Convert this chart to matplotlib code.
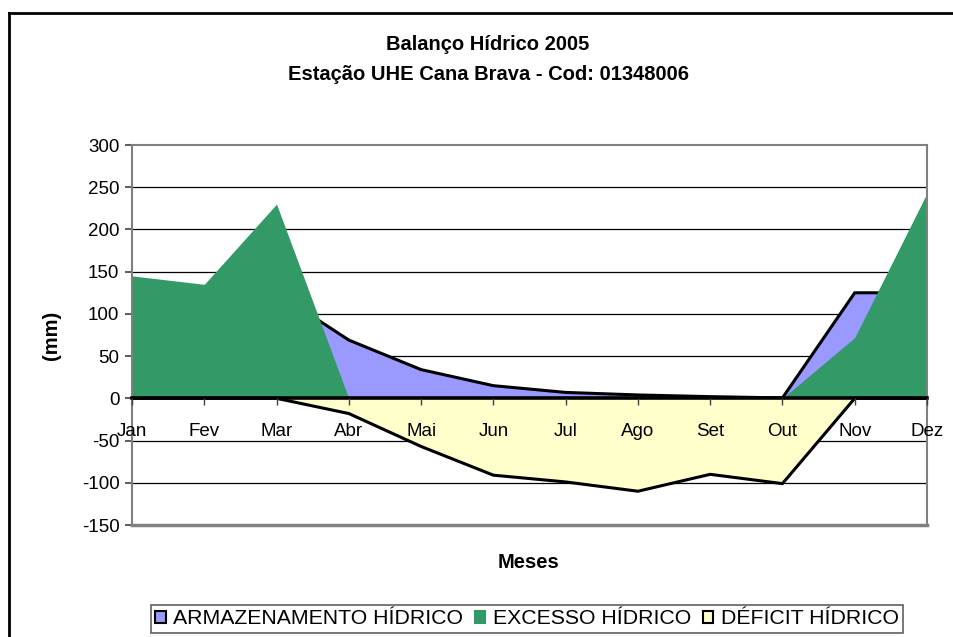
import numpy as np
import matplotlib
matplotlib.use('Agg')
import matplotlib.pyplot as plt
from matplotlib.patches import Patch
from matplotlib.lines import Line2D

plt.rcParams['font.family'] = ['Liberation Sans', 'DejaVu Sans']

# dados
meses = ['Jan', 'Fev', 'Mar', 'Abr', 'Mai', 'Jun', 'Jul', 'Ago', 'Set', 'Out', 'Nov', 'Dez']
armazenamento = [125, 125, 125, 69, 34, 15, 7, 4, 2, 0.5, 125, 125]
excesso = [145, 135, 230, 0, 0, 0, 0, 0, 0, 0, 72, 243]
deficit = [0, 0, 0, -18, -57, -91, -99, -110, -90, -101, 0, 0]
yticks = [-150, -100, -50, 0, 50, 100, 150, 200, 250, 300]

c_arm = '#9999FF'
c_exc = '#339966'
c_def = '#FFFFCC'

fig = plt.figure(figsize=(9.54, 6.37), dpi=100)
ax = fig.add_axes([132/954, 1 - 525/637, 795/954, 380/637])
x = np.arange(len(meses))

# grid
for v in yticks[1:-1]:
    ax.axhline(v, color='black', lw=0.9, zorder=1)

ax.fill_between(x, 0, armazenamento, color=c_arm, lw=0, zorder=2)
ax.plot(x, armazenamento, color='black', lw=2.2, zorder=2.1, solid_joinstyle='miter')
ax.fill_between(x, 0, excesso, color=c_exc, lw=0, zorder=2.2)
ax.fill_between(x, 0, deficit, color=c_def, lw=0, zorder=2.3)
ax.plot(x, deficit, color='black', lw=2.2, zorder=2.4, solid_joinstyle='miter')

ax.set_xlim(0, len(meses) - 1)
ax.set_ylim(-150, 300)
ax.set_yticks(yticks)
ax.set_yticklabels([str(v) for v in yticks])
ax.set_xticks(x)
ax.set_xticklabels(meses)

for s in ['top', 'right', 'left']:
    ax.spines[s].set_color('#808080')
    ax.spines[s].set_linewidth(1.5)
ax.spines['bottom'].set_position(('data', 0))
ax.spines['bottom'].set_color('black')
ax.spines['bottom'].set_linewidth(2.6)
ax.spines['bottom'].set_zorder(5)
ax.xaxis.set_zorder(6)
ax.axhline(-150, color='#808080', lw=2.5, zorder=5, clip_on=False)
ax.tick_params(axis='y', direction='out', length=5, width=1.2, color='#404040', pad=4, labelsize=13.5)
ax.tick_params(axis='x', direction='out', length=5, width=1.0, color='#404040', pad=13, labelsize=13.5)

ax.set_ylabel('(mm)', fontsize=14.5, fontweight='bold', labelpad=15)
fig.text(529/954, 1 - 563/637, 'Meses', fontsize=14.5, fontweight='bold', ha='center', va='center')
fig.text(488/954, 1 - 45/637, 'Balanço Hídrico 2005', fontsize=14.5, fontweight='bold', ha='center', va='center')
fig.text(488/954, 1 - 74/637, 'Estação UHE Cana Brava - Cod: 01348006', fontsize=14.5, fontweight='bold',
         ha='center', va='center')

handles = [Patch(facecolor=c_arm, edgecolor='black', lw=1.5),
           Patch(facecolor=c_exc, edgecolor=c_exc, lw=1.5),
           Patch(facecolor=c_def, edgecolor='black', lw=1.5)]
leg = fig.legend(handles, ['ARMAZENAMENTO HÍDRICO', 'EXCESSO HÍDRICO', 'DÉFICIT HÍDRICO'],
                 loc='center', bbox_to_anchor=(527/954, 1 - 619/637), ncol=3, fontsize=15.3,
                 handlelength=0.5, handleheight=0.5, handletextpad=0.35, columnspacing=0.55,
                 borderpad=0.2, fancybox=False, framealpha=1)
leg.get_frame().set_edgecolor('#606060')
leg.get_frame().set_linewidth(1.2)

# moldura externa (so topo e esquerda visiveis)
fig.add_artist(Line2D([9/954, 1], [1 - 13/637, 1 - 13/637], color='black', lw=2, transform=fig.transFigure))
fig.add_artist(Line2D([9/954, 9/954], [0, 1 - 13/637], color='black', lw=2, transform=fig.transFigure))

fig.savefig('out.png', dpi=100)
